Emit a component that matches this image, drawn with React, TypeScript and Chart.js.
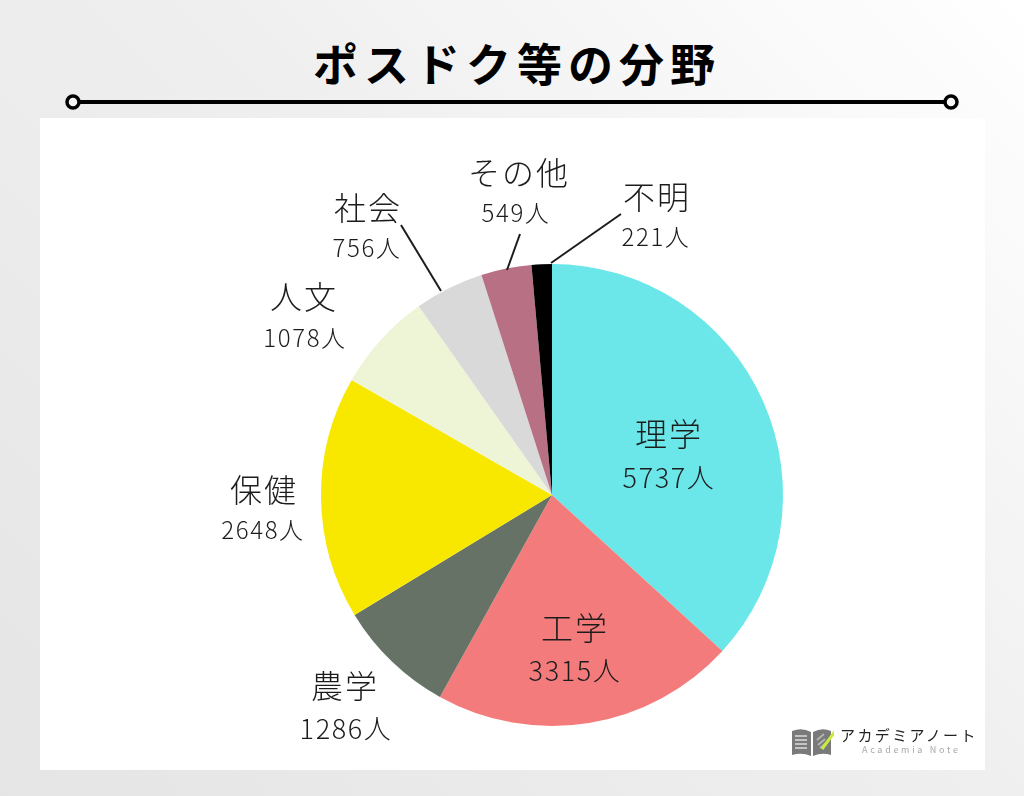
import React, { useEffect, useRef } from "react";
import { Chart, registerables } from "chart.js";

Chart.register(...registerables);

const categories = ["理学", "工学", "農学", "保健", "人文", "社会", "その他", "不明"];
const values = [5737, 3315, 1286, 2648, 1078, 756, 549, 221];
const colors = ["#6be7e9", "#f47b7b", "#667265", "#f8e800", "#eef5d6", "#d9d9d9", "#b87084", "#000000"];
const unit = "人";

// label centres: [name x, name y, name size, value x, value y, value size]
const labelLayout = [
  [669, 434, 32, 669, 478, 27],
  [575, 628, 32, 575, 671, 27],
  [345, 686, 32, 346, 729, 27],
  [264, 490, 32, 263, 530, 24],
  [304, 297, 32, 305, 338, 24],
  [368, 208, 32, 367, 248, 24],
  [519, 173, 32, 516, 213, 24],
  [657, 197, 32, 656, 237, 24],
];
const leaders = [
  [441, 291, 401, 225],
  [507, 270, 520, 234],
  [551, 263, 621, 214],
];

const FONT = '"Noto Sans CJK JP", "Noto Sans", sans-serif';

const labelPlugin = {
  id: "sliceLabels",
  afterDraw(chart: any) {
    const ctx = chart.ctx;
    ctx.save();
    ctx.textAlign = "center";
    ctx.textBaseline = "middle";
    ctx.fillStyle = "#1c1c1c";
    categories.forEach((name, i) => {
      const [nx, ny, ns, vx, vy, vs] = labelLayout[i];
      ctx.font = `300 ${ns}px ${FONT}`;
      (ctx as any).letterSpacing = "2px";
      ctx.fillText(name, nx, ny);
      ctx.font = `300 ${vs}px ${FONT}`;
      (ctx as any).letterSpacing = "1.6px";
      ctx.fillText(`${values[i]}${unit}`, vx, vy);
    });
    ctx.strokeStyle = "#1c1c1c";
    ctx.lineWidth = 2;
    leaders.forEach(([a, b, c, d]) => {
      ctx.beginPath();
      ctx.moveTo(a, b);
      ctx.lineTo(c, d);
      ctx.stroke();
    });
    ctx.restore();
  },
};

export default function App() {
  const ref = useRef<HTMLCanvasElement>(null);
  useEffect(() => {
    const chart = new Chart(ref.current!, {
      type: "pie",
      data: {
        labels: categories,
        datasets: [{ data: values, backgroundColor: colors, borderWidth: 0 }],
      },
      options: {
        responsive: false,
        animation: false,
        layout: { padding: { left: 321, right: 241, top: 264, bottom: 70 } },
        plugins: { legend: { display: false }, tooltip: { enabled: false } },
      },
      plugins: [labelPlugin],
    } as any);
    return () => chart.destroy();
  }, []);

  return (
    <div
      style={{
        position: "fixed",
        left: 0,
        top: 0,
        width: 1024,
        height: 796,
        overflow: "hidden",
        background: "linear-gradient(225deg, #ffffff 0%, #efefef 45%, #e5e5e5 100%)",
        fontFamily: FONT,
      }}
    >
      <div
        style={{
          position: "absolute",
          left: 5,
          width: 1024,
          top: 33,
          height: 60,
          lineHeight: "60px",
          textAlign: "center",
          fontSize: 45,
          fontWeight: 700,
          letterSpacing: 6,
          color: "#000",
        }}
      >
        ポスドク等の分野
      </div>
      <svg width={1024} height={118} style={{ position: "absolute", left: 0, top: 0 }}>
        <line x1={73} y1={102} x2={951} y2={102} stroke="#000" strokeWidth={4} />
        <circle cx={73} cy={102} r={6} fill="#f4f4f4" stroke="#000" strokeWidth={3.5} />
        <circle cx={951} cy={102} r={6} fill="#f8f8f8" stroke="#000" strokeWidth={3.5} />
      </svg>
      <div style={{ position: "absolute", left: 40, top: 118, width: 945, height: 652, background: "#fff" }} />
      <canvas ref={ref} width={1024} height={796} style={{ position: "absolute", left: 0, top: 0 }} />
      <svg width={44} height={32} viewBox="0 0 44 32" style={{ position: "absolute", left: 790, top: 726 }}>
        <path d="M2 5 Q12 1 21 6 V30 Q12 26 2 29 Z" fill="#7a7a7a" />
        <path d="M23 6 Q32 1 41 5 V29 Q32 26 23 30 Z" fill="#7a7a7a" />
        <path d="M5 10 H17 M5 14 H17 M5 18 H17 M5 22 H17" stroke="#c4c4c4" strokeWidth={1.8} />
        <path d="M27 14 L34 8 M28 19 L35 13 M30 22 L36 17" stroke="#b5b5b5" strokeWidth={1.8} />
        <path d="M32 23 L46 4" stroke="#c6ec3c" strokeWidth={3} />
      </svg>
      <div
        style={{
          position: "absolute",
          left: 840,
          top: 724,
          fontSize: 15,
          lineHeight: "22px",
          letterSpacing: 2.4,
          color: "#222",
          whiteSpace: "nowrap",
        }}
      >
        アカデミアノート
      </div>
      <div
        style={{
          position: "absolute",
          left: 862,
          top: 744,
          fontSize: 9,
          lineHeight: "12px",
          letterSpacing: 2.7,
          color: "#a8a8a8",
          whiteSpace: "nowrap",
        }}
      >
        Academia Note
      </div>
    </div>
  );
}
